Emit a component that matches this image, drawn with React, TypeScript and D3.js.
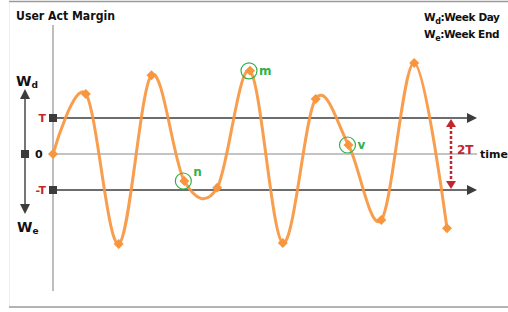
import React from 'react';
import { scaleLinear, line, curveCardinal } from 'd3';

const W = 508;
const H = 312;

// time index and signal value (in units of T)
const times = [0, 1, 2, 3, 4, 5, 6, 7, 8, 9, 10, 11, 12];
const values = [0, 1.67, -2.5, 2.19, -0.75, -0.94, 2.31, -2.47, 1.53, 0.25, -1.83, 2.53, -2.06];
const marked = [
  { idx: 4, label: 'n' },
  { idx: 6, label: 'm' },
  { idx: 9, label: 'v' },
];
const levels = [
  { v: 1, label: 'T' },
  { v: -1, label: '-T' },
];

const ORANGE = '#f7963f';
const GREEN = '#2fb24a';
const RED = '#c1272d';
const DARK = '#3c3c3c';
const FONT = '"DejaVu Sans", Verdana, sans-serif';

export default function App() {
  const x = scaleLinear().domain([0, 12]).range([53, 447]);
  const y = scaleLinear().domain([-1, 1]).range([190, 118]);
  const pts = times.map((t, i) => ({ t, v: values[i] }));
  const path = line<{ t: number; v: number }>()
    .x((d) => x(d.t))
    .y((d) => y(d.v))
    .curve(curveCardinal)(pts);

  const xEnd = 477;
  const diamond = (cx: number, cy: number, r = 5) =>
    `M${cx},${cy - r}L${cx + r},${cy}L${cx},${cy + r}L${cx - r},${cy}Z`;
  const arrowR = (tipX: number, cy: number) =>
    `M${tipX},${cy}L${tipX - 10},${cy - 5}L${tipX - 10},${cy + 5}Z`;

  const leftX = 25;
  const y0 = y(0);

  return (
    <svg width={W} height={H} style={{ position: 'absolute', left: 0, top: 0 }} fontFamily={FONT}>
      <rect width={W} height={H} fill="#fff" />
      {/* frame */}
      <line x1={9} x2={W} y1={1.5} y2={1.5} stroke="#9a9a9a" strokeWidth={1.5} />
      <line x1={9.5} x2={9.5} y1={2} y2={307} stroke="#eeeeee" />
      <line x1={9} x2={W} y1={307} y2={307} stroke="#9a9a9a" strokeWidth={1.5} />

      <text x={16} y={20} fontSize={12} fontWeight="bold" fill="#111" textLength={99} lengthAdjust="spacingAndGlyphs">
        User Act Margin
      </text>

      <text x={424} y={21} fontSize={10.5} fontWeight="bold" fill="#111" letterSpacing={-0.4}>
        W<tspan fontSize={8} dy={3}>d</tspan><tspan dy={-3}>:Week Day</tspan>
      </text>
      <text x={424} y={38} fontSize={10.5} fontWeight="bold" fill="#111" letterSpacing={-0.4}>
        W<tspan fontSize={8} dy={3}>e</tspan><tspan dy={-3}>:Week End</tspan>
      </text>

      {/* vertical axis */}
      <line x1={53} x2={53} y1={25} y2={291} stroke="#a8a8a8" strokeWidth={1.5} />

      {/* zero line */}
      <line x1={53} x2={xEnd} y1={y0} y2={y0} stroke="#8a8a8a" strokeWidth={1.2} />
      <text x={480} y={y0 + 4} fontSize={11} fontWeight="bold" fill="#111">time</text>
      <text x={35} y={y0 + 4} fontSize={11} fontWeight="bold" fill="#111">0</text>

      {/* threshold lines */}
      {levels.map((l) => (
        <g key={l.label}>
          <line x1={53} x2={xEnd - 8} y1={y(l.v)} y2={y(l.v)} stroke={DARK} strokeWidth={1.4} />
          <path d={arrowR(xEnd, y(l.v))} fill={DARK} />
          <rect x={49} y={y(l.v) - 4} width={8} height={8} fill={DARK} />
          <text x={46} y={y(l.v) + 4} fontSize={11} fontWeight="bold" fill={RED} textAnchor="end">{l.label}</text>
        </g>
      ))}

      {/* left Wd / We arrow */}
      <line x1={leftX} x2={leftX} y1={97} y2={206} stroke={DARK} strokeWidth={1.4} />
      <path d={`M${leftX},89L${leftX - 5},99L${leftX + 5},99Z`} fill={DARK} />
      <path d={`M${leftX},214L${leftX - 5},204L${leftX + 5},204Z`} fill={DARK} />
      <rect x={leftX - 4} y={y0 - 4} width={8} height={8} fill={DARK} />
      <text x={16} y={86} fontSize={14} fontWeight="bold" fill="#111">
        W<tspan fontSize={9} dy={2}>d</tspan>
      </text>
      <text x={17} y={232} fontSize={14} fontWeight="bold" fill="#111">
        W<tspan fontSize={9} dy={2}>e</tspan>
      </text>

      {/* 2T dashed arrow */}
      <line x1={451} x2={451} y1={y(1) + 8} y2={y(-1) - 8} stroke={RED} strokeWidth={2.5} strokeDasharray="3,2" />
      <path d={`M451,${y(1) + 1}L${446},${y(1) + 9}L${456},${y(1) + 9}Z`} fill={RED} />
      <path d={`M451,${y(-1) - 1}L${446},${y(-1) - 9}L${456},${y(-1) - 9}Z`} fill={RED} />
      <text x={457} y={y0} fontSize={12} fontWeight="bold" fill={RED}>2T</text>

      {/* signal */}
      <path d={path ?? ''} fill="none" stroke={ORANGE} strokeWidth={3} strokeOpacity={0.92} />
      {pts.map((d) => (
        <path key={d.t} d={diamond(x(d.t), y(d.v))} fill={ORANGE} />
      ))}

      {/* marked points */}
      {marked.map((m) => {
        const cx = x(times[m.idx]);
        const cy = y(values[m.idx]);
        return (
          <g key={m.label}>
            <circle cx={cx - 1} cy={cy} r={8} fill="none" stroke={GREEN} strokeWidth={1.2} />
            <text x={cx + 9} y={cy - 5 + (m.label === 'n' ? 0 : 9)} fontSize={12} fontWeight="bold" fill={GREEN}>{m.label}</text>
          </g>
        );
      })}
    </svg>
  );
}
